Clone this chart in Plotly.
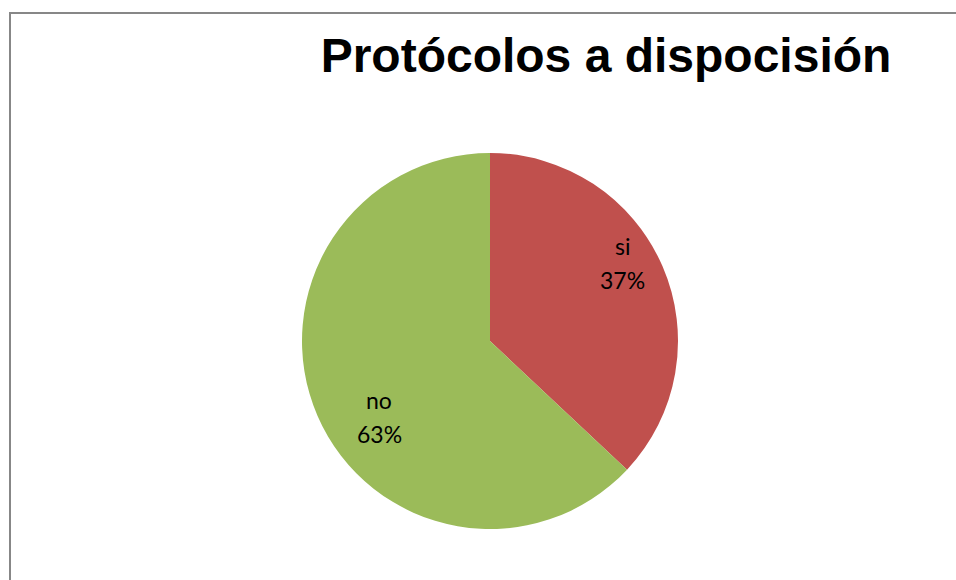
import math
import plotly.graph_objects as go

labels = ["si", "no"]
values = [37, 63]
colors = ["#C0504D", "#9BBB59"]
title_text = "Protócolos a dispocisión"

W, H = 956, 580
cx, cy, r = 490, 341, 188

fig = go.Figure(go.Pie(
    labels=labels,
    values=values,
    sort=False,
    direction="clockwise",
    rotation=0,
    marker=dict(colors=colors, line=dict(width=0)),
    textinfo="none",
    domain=dict(x=[(cx - r) / W, (cx + r) / W], y=[(H - cy - r) / H, (H - cy + r) / H]),
    showlegend=False,
    hoverinfo="label+percent",
))

# data labels placed at each slice's angular position (derived from the values)
total = sum(values)
annotations = []
start = 0.0
label_radius = [0.815, 0.715]
angle_shift = [-7.0, -11.0]
line_gap = 34
lab_font = dict(family="Lato, Open Sans, sans-serif", size=23, color="#000000")
for lab, v, lr, sh in zip(labels, values, label_radius, angle_shift):
    mid = (start + v / 2) / total * 360 + sh
    start += v
    rad = math.radians(mid)
    px = cx + lr * r * math.sin(rad)
    py = cy - lr * r * math.cos(rad)
    for txt, dy in ((lab, -line_gap / 2), (f"{round(v / total * 100)}%", line_gap / 2)):
        annotations.append(dict(
            x=px / W, y=1 - (py + dy) / H, xref="paper", yref="paper",
            text=txt, showarrow=False, align="center",
            xanchor="center", yanchor="middle", font=lab_font,
        ))

fig.update_layout(
    width=W, height=H,
    margin=dict(l=0, r=0, t=0, b=0),
    paper_bgcolor="#FFFFFF",
    plot_bgcolor="#FFFFFF",
    title=dict(
        text="<b>" + title_text + "</b>",
        x=606 / W, xanchor="center",
        y=1 - 55 / H, yanchor="middle",
        font=dict(family="Liberation Sans, Arial, sans-serif", size=48, color="#000000"),
    ),
    annotations=annotations,
    shapes=[dict(
        type="rect", xref="paper", yref="paper",
        x0=10 / W, x1=1.05, y0=-0.05, y1=1 - 13 / H,
        line=dict(color="#878787", width=2),
        fillcolor="rgba(0,0,0,0)", layer="below",
    )],
)

fig.write_html("out.html")
